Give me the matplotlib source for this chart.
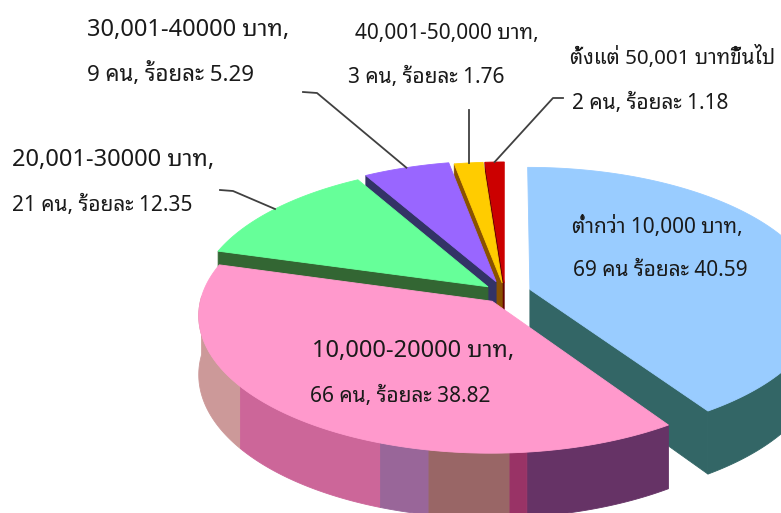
import numpy as np
import matplotlib
matplotlib.use("Agg")
import matplotlib.pyplot as plt
from matplotlib import font_manager
from matplotlib.patches import Polygon

# income groups, number of people and share
groups = ["ต่ำกว่า 10,000 บาท,", "10,000-20000 บาท,", "20,001-30000 บาท,",
          "30,001-40000 บาท,", "40,001-50,000 บาท,", "ตั้งแต่ 50,001 บาทขึ้นไป"]
counts = [69, 66, 21, 9, 3, 2]
percents = [40.59, 38.82, 12.35, 5.29, 1.76, 1.18]
seps = [" ", ", ", ", ", ", ", ", ", ", "]

top_colors = ["#99ccff", "#ff99cc", "#66ff99", "#9966ff", "#ffcc00", "#cc0000"]
side_colors = ["#336666", "#993366", "#336633", "#333366", "#8a5200", "#660000"]
explode = [0.09, 0.075, 0.075, 0.09, 0.075, 0.075]
# shading bands on the front wall (degrees clockwise from 12 o'clock)
front_shades = [(146, 173.6, "#663366"), (173.6, 176.6, "#993366"), (176.6, 191, "#996666"),
                (191, 200, "#996699"), (200, 234, "#cc6699"), (234, 272, "#cc9999")]

# text placement: (x, baseline) and font size for the two lines of each label
line1_xy = [(572, 233), (312, 357), (12, 166), (87, 36), (355, 39), (570, 64)]
line2_xy = [(573, 276), (310, 402), (12, 211), (87, 81), (348, 83), (572, 109)]
line1_size = [15, 17, 17, 17, 15, 14.8]
line2_size = [15, 15, 15, 16, 15, 15]
# leader polylines, ending on the rim; None x = straight down to the rim
leaders = [None, None, [(220, 190), (233, 191)], [(303, 92), (317, 93)],
           [(None, 110)], [(563, 98), (553, 98)]]

names = {f.name for f in font_manager.fontManager.ttflist}
thai = next((n for n in ["Noto Sans Thai Looped", "Sarabun", "Noto Sans Thai", "Anuphan"]
             if n in names), "DejaVu Sans")
plt.rcParams["font.family"] = ["Noto Sans", thai, "DejaVu Sans"]

CX, CY = 505, 293
RX, RY, DEPTH, PERSP = 290, 135, 58, 0.10


def project(X, Y, z):
    d = 1 + PERSP * Y
    return CX + RX * X / d, CY - RY * Y / d + DEPTH * z / d


edges = np.concatenate([[0], np.cumsum(counts)]) / sum(counts) * 360


def shift(i):
    mid = np.radians((edges[i] + edges[i + 1]) / 2)
    return explode[i] * np.sin(mid), explode[i] * np.cos(mid)


def rim(i, a0, a1, z, n=150):
    ox, oy = shift(i)
    t = np.radians(np.linspace(a0, a1, n))
    X, Y = ox + np.sin(t), oy + np.cos(t)
    return np.column_stack(project(X, Y, z)), Y.mean()


fig = plt.figure(figsize=(7.81, 5.13), dpi=100)
ax = fig.add_axes([0, 0, 1, 1])
ax.set_xlim(0, 781)
ax.set_ylim(513, 0)
ax.axis("off")

walls = []
for i in range(len(counts)):
    a0, a1 = edges[i], edges[i + 1]
    ox, oy = shift(i)
    # outer wall, front half only
    bands = front_shades if i == 1 else [(90, 270, side_colors[i])]
    for b0, b1, c in bands:
        lo, hi = max(a0, b0), min(a1, b1)
        if hi <= lo:
            continue
        top, ym = rim(i, lo, hi, 0)
        bot, _ = rim(i, lo, hi, 1)
        walls.append((ym, np.vstack([top, bot[::-1]]), c))
    # cut faces that turn toward the viewer
    for a, visible in [(a0, np.sin(np.radians(a0)) < -1e-9), (a1, np.sin(np.radians(a1)) > 1e-9)]:
        if not visible:
            continue
        t = np.radians(a)
        X = np.array([ox, ox + np.sin(t), ox + np.sin(t), ox])
        Y = np.array([oy, oy + np.cos(t), oy + np.cos(t), oy])
        Z = np.array([0, 0, 1, 1])
        walls.append((Y.mean(), np.column_stack(project(X, Y, Z)), side_colors[i]))

for ym, pts, c in sorted(walls, key=lambda w: -w[0]):
    ax.add_patch(Polygon(pts, closed=True, facecolor=c, edgecolor=c, lw=0.6))

for i in range(len(counts)):
    ox, oy = shift(i)
    arc, _ = rim(i, edges[i], edges[i + 1], 0)
    centre = np.array(project(ox, oy, 0))
    pts = np.vstack([centre, arc])
    ax.add_patch(Polygon(pts, closed=True, facecolor=top_colors[i],
                         edgecolor=top_colors[i], lw=0.6, zorder=3))

for i in range(len(counts)):
    if leaders[i] is not None:
        ox, oy = shift(i)
        mid = np.radians((edges[i] + edges[i + 1]) / 2)
        ex, ey = project(ox + np.sin(mid), oy + np.cos(mid), 0)
        xs = [ex if p[0] is None else p[0] for p in leaders[i]] + [ex]
        ys = [p[1] for p in leaders[i]] + [ey]
        ax.plot(xs, ys, color="#404040", lw=1.3, zorder=4)
    ax.text(*line1_xy[i], groups[i], fontsize=line1_size[i], color="#1a1a1a",
            ha="left", va="baseline", zorder=5)
    ax.text(*line2_xy[i], f"{counts[i]} คน{seps[i]}ร้อยละ {percents[i]:.2f}",
            fontsize=line2_size[i], color="#1a1a1a", ha="left", va="baseline", zorder=5)

fig.savefig("out.png", dpi=100)
